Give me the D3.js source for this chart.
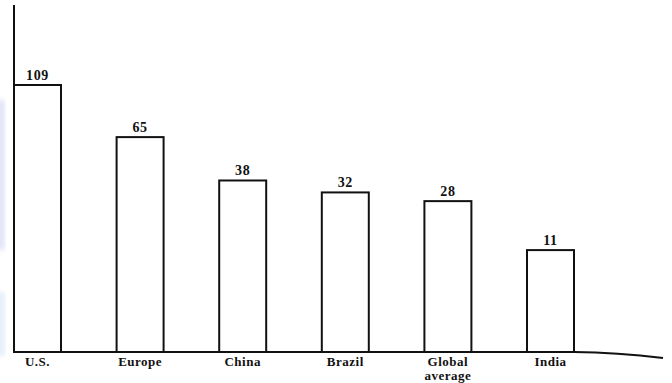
<!DOCTYPE html>
<html>
<head>
<meta charset="utf-8">
<script src="https://cdn.jsdelivr.net/npm/d3@7"></script>
<style>
  html, body { margin: 0; padding: 0; background: #fff; }
  svg { display: block; }
</style>
</head>
<body>
<svg id="chart" width="672" height="383"></svg>
<script>
// Categories and their values
const categories = ["U.S.", "Europe", "China", "Brazil", "Global average", "India"];
const values = [109, 65, 38, 32, 28, 11];

const W = 672, H = 383;
const svg = d3.select("#chart");
const ink = "#111";
const font = "'Liberation Serif', 'Times New Roman', serif";

// Soft tint along the left edge of the page
const defs = svg.append("defs");
defs.append("filter").attr("id", "soft")
  .append("feGaussianBlur").attr("stdDeviation", 2.5);
const tint = svg.append("g").attr("filter", "url(#soft)").attr("fill", "#e2e5f8");
tint.append("rect").attr("x", -4).attr("y", 100).attr("width", 9).attr("height", 150);
tint.append("rect").attr("x", -4).attr("y", 292).attr("width", 9).attr("height", 64).attr("fill", "#e5effa");

const left = 14, baseY = 352, topY = 85;

const x = d3.scaleBand()
  .domain(categories)
  .range([left, 574])
  .paddingInner(0.542)
  .paddingOuter(0)
  .align(0);

const y = d3.scalePow().exponent(0.42)
  .domain([0, d3.max(values)])
  .range([baseY, topY]);

const data = categories.map((c, i) => ({ c, v: values[i] }));

// Bars
svg.append("g").selectAll("rect")
  .data(data)
  .join("rect")
  .attr("x", d => x(d.c))
  .attr("y", d => y(d.v))
  .attr("width", x.bandwidth())
  .attr("height", d => baseY - y(d.v))
  .attr("fill", "#fff")
  .attr("stroke", ink)
  .attr("stroke-width", 2);

// Value labels above bars
svg.append("g").selectAll("text")
  .data(data)
  .join("text")
  .attr("x", d => x(d.c) + x.bandwidth() / 2)
  .attr("y", d => y(d.v) - 5)
  .attr("text-anchor", "middle")
  .attr("font-family", font)
  .attr("font-weight", "bold")
  .attr("font-size", 14)
  .attr("letter-spacing", 0.6)
  .attr("fill", ink)
  .text(d => d.v);

// Vertical axis line
svg.append("line")
  .attr("x1", left).attr("x2", left)
  .attr("y1", 5).attr("y2", baseY)
  .attr("stroke", ink).attr("stroke-width", 2);

// Baseline, drooping gently past the last bar
const lastRight = x(categories[categories.length - 1]) + x.bandwidth();
const base = d3.path();
base.moveTo(left - 1, baseY);
base.lineTo(lastRight, baseY);
base.bezierCurveTo(lastRight + 30, baseY + 0.3, lastRight + 60, baseY + 2.5, 663, baseY + 6);
svg.append("path")
  .attr("d", base.toString())
  .attr("fill", "none")
  .attr("stroke", ink)
  .attr("stroke-width", 2);

// Category labels (wrapped on spaces)
const labels = svg.append("g")
  .attr("font-family", font)
  .attr("font-weight", "bold")
  .attr("font-size", 13)
  .attr("letter-spacing", 0.5)
  .attr("fill", ink)
  .attr("text-anchor", "middle");

data.forEach(d => {
  const cx = x(d.c) + x.bandwidth() / 2;
  const t = labels.append("text").attr("x", cx).attr("y", 366);
  d.c.split(" ").forEach((word, i) => {
    t.append("tspan")
      .attr("x", cx)
      .attr("dy", i === 0 ? 0 : 14)
      .text(word);
  });
});
</script>
</body>
</html>
